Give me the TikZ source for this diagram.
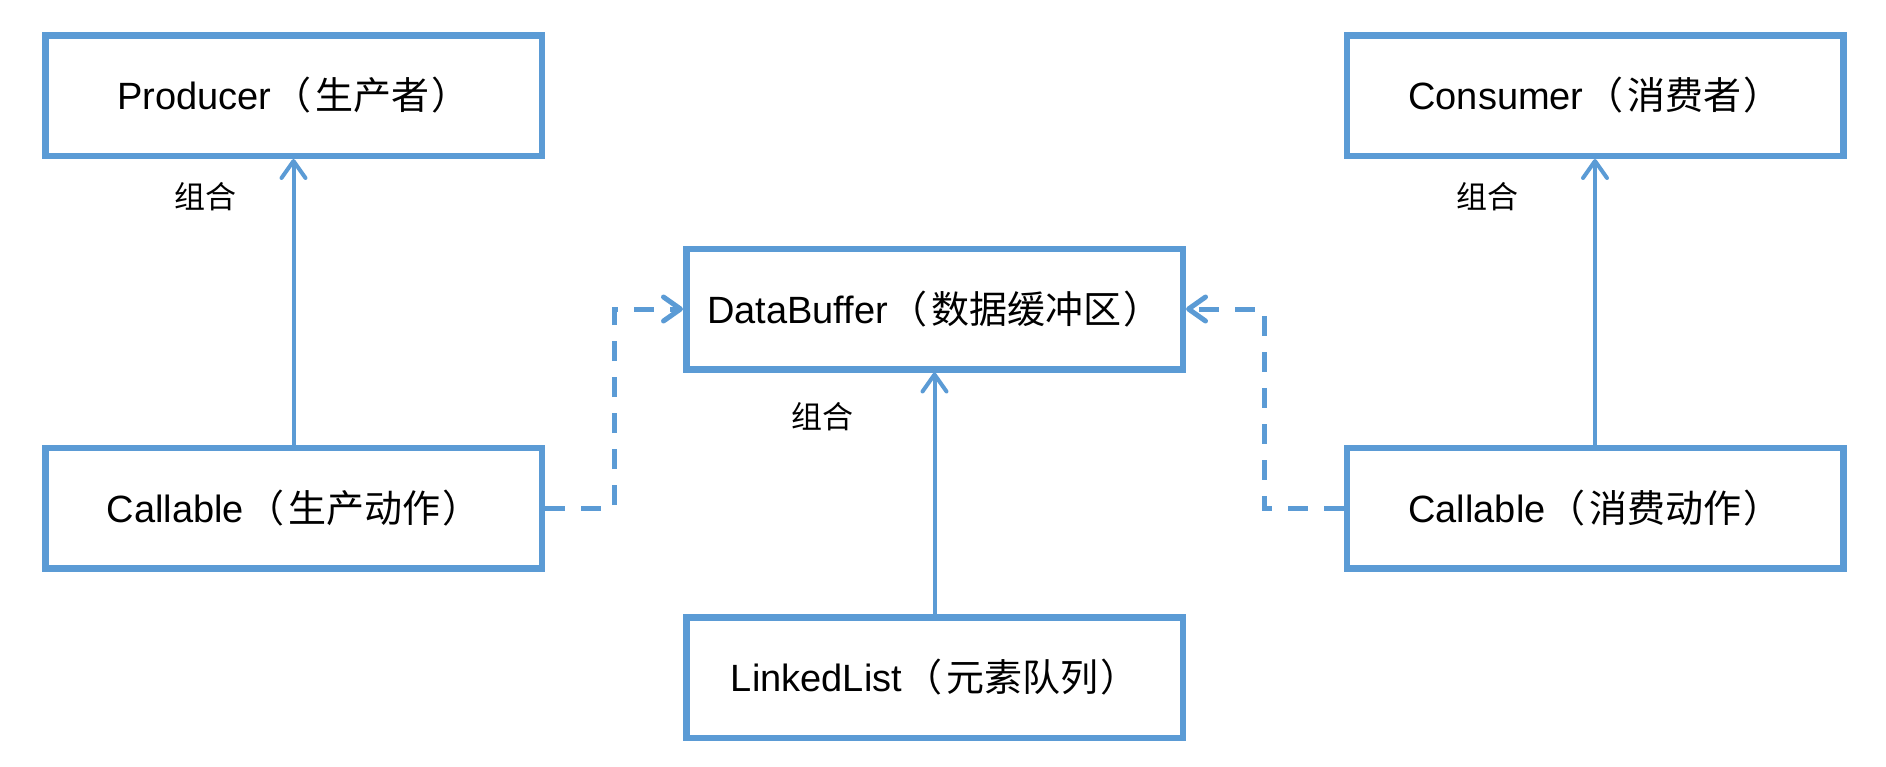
\documentclass[tikz,border=0pt]{standalone}
\usepackage{fontspec}
\setmainfont{Liberation Sans}
\newfontfamily\cjk{Noto Sans CJK SC}
\usetikzlibrary{arrows.meta}
\definecolor{umlblue}{RGB}{91,155,213}
\newcommand\myLP{\hspace{2pt}{\cjk （}\hspace{4pt}}
\newcommand\myRP{\hspace{2pt}{\cjk ）}}
\newcommand\myText[2]{\raisebox{2.4pt}{#1\myLP{\cjk #2}\myRP}}
\tikzset{
  classbox/.style={draw=umlblue, line width=6.5pt, fill=white, minimum width=496.5pt, minimum height=120.5pt, inner sep=0pt, font=\fontsize{38}{44}\selectfont},
  compose/.style={draw=umlblue, line width=4pt, -{Straight Barb[length=17pt,width=24pt,round]}},
  depend/.style={draw=umlblue, line width=5pt, dash pattern=on 20pt off 16pt, -{Straight Barb[length=17pt,width=24pt,round]}},
  lbl/.style={font=\cjk\fontsize{31}{36}\selectfont, inner sep=0pt}
}
\begin{document}
\begin{tikzpicture}[x=1pt,y=-1pt]
\useasboundingbox (0,0) rectangle (1886,766);
\node[classbox] (prod) at (293.5,95.5) {\myText{Producer}{生产者}};
\node[classbox] (cons) at (1595,95.5) {\myText{Consumer}{消费者}};
\node[classbox] (callp) at (293.5,508) {\myText{Callable}{生产动作}};
\node[classbox] (callc) at (1595,508) {\myText{Callable}{消费动作}};
\node[classbox] (buf) at (934.5,309) {\myText{DataBuffer}{数据缓冲区}};
\node[classbox] (list) at (934.5,677.5) {\myText{LinkedList}{元素队列}};
\node[lbl] (l1) at (205,197) {组合};
\node[lbl] (l2) at (1487,197) {组合};
\node[lbl] (l3) at (822,417) {组合};
\draw[compose] (callp.north) -- (prod.south);
\draw[compose] (callc.north) -- (cons.south);
\draw[compose] (list.north) -- (buf.south);
\coordinate (pl1) at (614,508);
\coordinate (pl2) at (614,309);
\coordinate (pr1) at (1264,508);
\coordinate (pr2) at (1264,309);
\draw[depend] (callp.east) -- (pl1) -- (pl2) -- (buf.west);
\draw[depend] (callc.west) -- (pr1) -- (pr2) -- (buf.east);
\end{tikzpicture}
\end{document}
